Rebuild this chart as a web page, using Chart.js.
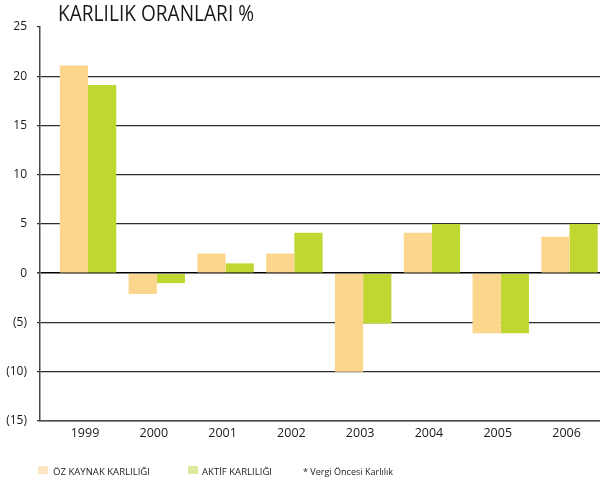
<!DOCTYPE html>
<html><head><meta charset="utf-8">
<script src="https://cdn.jsdelivr.net/npm/chart.js@4.4.0/dist/chart.umd.min.js"></script>
<style>html,body{margin:0;padding:0;background:#fff;overflow:hidden}#wrap{width:600px;height:483px;position:relative}</style>
</head><body><div id="wrap"><canvas id="c" width="600" height="483"></canvas></div>
<script>
const years = ['1999','2000','2001','2002','2003','2004','2005','2006'];
const ozKaynak = [21.1, -2.1, 2.0, 2.0, -10.0, 4.1, -6.1, 3.7];
const aktif = [19.1, -1.0, 1.0, 4.1, -5.1, 5.0, -6.1, 5.0];
const yTicks = [-15, -10, -5, 0, 5, 10, 15, 20, 25];
const titleText = 'KARLILIK ORANLARI %';
const legendLabels = ['ÖZ KAYNAK KARLILIĞI', 'AKTİF KARLILIĞI', '* Vergi Öncesi Karlılık'];

const FONT = "'Open Sans', 'Noto Sans', sans-serif";
function fitText(ctx, text, x, y, width, size, color) {
  ctx.save();
  ctx.font = size + 'px ' + FONT;
  ctx.fillStyle = color;
  ctx.textBaseline = 'alphabetic';
  ctx.textAlign = 'left';
  const w = ctx.measureText(text).width;
  ctx.translate(x, y);
  ctx.scale(width / w, 1);
  ctx.fillText(text, 0, 0);
  ctx.restore();
}

const decor = {
  id: 'decor',
  afterDraw(chart) {
    const ctx = chart.ctx;
    fitText(ctx, titleText, 58, 20.5, 196, 21, '#1a1a1a');
    ctx.save();
    ctx.fillStyle = '#fde6c2';
    ctx.fillRect(38, 466, 10, 8);
    ctx.fillStyle = '#dde99a';
    ctx.fillRect(188, 466, 10, 8);
    ctx.restore();
    fitText(ctx, legendLabels[0], 53, 474.5, 97, 9.5, '#222');
    fitText(ctx, legendLabels[1], 202, 474.5, 70, 9.5, '#222');
    fitText(ctx, legendLabels[2], 303, 474.5, 90, 9.5, '#222');
  }
};

const toPts = arr => arr.map((v, i) => ({x: i, y: v}));

new Chart(document.getElementById('c'), {
  type: 'bar',
  data: {
    datasets: [
      {label: legendLabels[0], data: toPts(ozKaynak), backgroundColor: '#fdd68e', borderWidth: 0,
       categoryPercentage: 0.82, barPercentage: 1},
      {label: legendLabels[1], data: toPts(aktif), backgroundColor: '#bfd730', borderWidth: 0,
       categoryPercentage: 0.82, barPercentage: 1}
    ]
  },
  options: {
    responsive: false,
    animation: false,
    layout: {padding: {top: 27, left: 0, right: 0, bottom: 0}},
    plugins: {legend: {display: false}, tooltip: {enabled: false}, title: {display: false}},
    scales: {
      x: {
        type: 'linear',
        offset: false,
        min: -0.698, max: 7.443,
        afterBuildTicks: s => { s.ticks = years.map((_, i) => ({value: i})); },
        afterFit: s => { s.height = 62; },
        grid: {display: false, drawTicks: false, offset: false},
        border: {display: true, color: '#4a4a4a', width: 1.5},
        ticks: {
          callback: v => years[v] !== undefined ? years[v] : '',
          font: {family: FONT, size: 12.5}, color: '#1a1a1a',
          padding: 5, maxRotation: 0, autoSkip: false, labelOffset: -3
        }
      },
      y: {
        min: -15, max: 25,
        afterBuildTicks: s => { s.ticks = yTicks.map(v => ({value: v})); },
        afterFit: s => { s.width = 40; },
        grid: {
          color: c => c.tick.value === 25 ? 'rgba(0,0,0,0)' : (c.tick.value === 0 ? '#000' : '#2e2e2e'),
          lineWidth: c => c.tick.value === 0 ? 1.6 : 1.3,
          tickColor: '#333', tickLength: 3, drawTicks: true
        },
        border: {display: true, color: '#4a4a4a', width: 1.5},
        ticks: {
          callback: v => v < 0 ? '(' + (-v) + ')' : String(v),
          font: {family: FONT, size: 12}, color: '#1a1a1a', padding: 10
        }
      }
    }
  },
  plugins: [decor]
});
</script></body></html>
